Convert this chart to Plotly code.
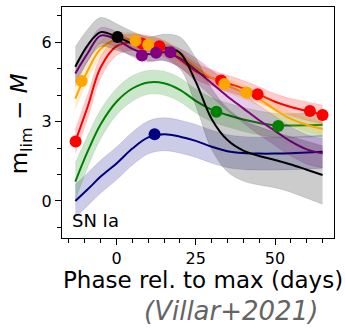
import plotly.graph_objects as go

phase = [-13, -9, -5, 0, 5, 10, 15, 20, 25, 30, 35, 40, 45, 50, 55, 60, 65]

navy_mean = [0.0, 0.45, 0.92, 1.42, 1.98, 2.4, 2.52, 2.43, 2.27, 2.05, 1.88, 1.81, 1.79, 1.79, 1.8, 1.83, 1.86]
navy_err = [0.62, 0.62, 0.62, 0.62, 0.62, 0.62, 0.62, 0.62, 0.62, 0.62, 0.62, 0.62, 0.62, 0.62, 0.62, 0.62, 0.62]
green_mean = [0.73, 1.9, 2.9, 3.75, 4.25, 4.48, 4.45, 4.2, 3.78, 3.45, 3.25, 3.08, 2.95, 2.86, 2.85, 2.86, 2.88]
green_err = [0.7, 0.6, 0.55, 0.5, 0.48, 0.45, 0.45, 0.45, 0.45, 0.45, 0.45, 0.45, 0.45, 0.45, 0.45, 0.45, 0.45]
red_mean = [2.25, 3.6, 5.05, 5.85, 6.0, 5.95, 5.75, 5.35, 4.9, 4.65, 4.45, 4.25, 4.02, 3.75, 3.55, 3.4, 3.27]
red_err = [0.45, 0.45, 0.4, 0.35, 0.3, 0.3, 0.3, 0.3, 0.3, 0.3, 0.3, 0.3, 0.3, 0.3, 0.32, 0.35, 0.35]
orange_mean = [3.87, 4.95, 5.75, 6.1, 6.1, 5.95, 5.8, 5.5, 5.05, 4.65, 4.35, 4.12, 3.85, 3.45, 3.1, 2.88, 2.72]
orange_err = [0.4, 0.35, 0.3, 0.25, 0.25, 0.25, 0.25, 0.25, 0.25, 0.25, 0.25, 0.25, 0.25, 0.25, 0.25, 0.25, 0.25]
purple_mean = [4.82, 5.6, 6.25, 6.1, 5.75, 5.55, 5.62, 5.4, 4.95, 4.45, 3.95, 3.5, 3.05, 2.65, 2.25, 1.95, 1.8]
purple_err = [0.35, 0.3, 0.3, 0.3, 0.3, 0.3, 0.3, 0.35, 0.45, 0.5, 0.55, 0.55, 0.55, 0.55, 0.55, 0.55, 0.55]
black_mean = [5.07, 5.9, 6.38, 6.2, 5.95, 5.75, 5.8, 5.6, 4.5, 3.1, 2.3, 1.9, 1.7, 1.55, 1.38, 1.18, 0.98]
black_err = [0.75, 0.6, 0.55, 0.5, 0.45, 0.45, 0.5, 0.6, 0.9, 1.15, 1.2, 1.15, 1.1, 1.05, 1.05, 1.08, 1.1]

navy_obs_t = [12.0]
navy_obs_m = [2.52]
green_obs_t = [31.5, 51.0]
green_obs_m = [3.37, 2.83]
red_obs_t = [-12.9, 8.0, 13.5, 33.0, 44.5, 61.0, 65.0]
red_obs_m = [2.25, 5.95, 5.85, 4.55, 4.03, 3.4, 3.25]
orange_obs_t = [-11.0, 6.0, 10.0, 34.0, 41.0]
orange_obs_m = [4.53, 6.05, 5.9, 4.42, 4.1]
purple_obs_t = [8.0, 12.5, 17.0]
purple_obs_m = [5.5, 5.6, 5.62]
black_obs_t = [0.3]
black_obs_m = [6.2]

bands = [
    ("navy", (0, 0, 128), navy_mean, navy_err, navy_obs_t, navy_obs_m),
    ("green", (0, 128, 0), green_mean, green_err, green_obs_t, green_obs_m),
    ("red", (255, 0, 0), red_mean, red_err, red_obs_t, red_obs_m),
    ("orange", (255, 165, 0), orange_mean, orange_err, orange_obs_t, orange_obs_m),
    ("purple", (128, 0, 128), purple_mean, purple_err, purple_obs_t, purple_obs_m),
    ("black", (0, 0, 0), black_mean, black_err, black_obs_t, black_obs_m),
]

fig = go.Figure()
for name, rgb, mean, err, ot, om in bands:
    col = "rgb(%d,%d,%d)" % rgb
    fillc = "rgba(%d,%d,%d,0.2)" % rgb
    lo = [m - e for m, e in zip(mean, err)]
    hi = [m + e for m, e in zip(mean, err)]
    fig.add_trace(go.Scatter(x=phase, y=lo, mode="lines", line=dict(width=0.6, color=fillc, shape="spline"),
                             showlegend=False, hoverinfo="skip"))
    fig.add_trace(go.Scatter(x=phase, y=hi, mode="lines", line=dict(width=0.6, color=fillc, shape="spline"),
                             fill="tonexty", fillcolor=fillc, showlegend=False, hoverinfo="skip"))
    fig.add_trace(go.Scatter(x=phase, y=mean, mode="lines", line=dict(width=2, color=col, shape="spline"),
                             showlegend=False, name=name))
for name, rgb, mean, err, ot, om in bands:
    col = "rgb(%d,%d,%d)" % rgb
    fig.add_trace(go.Scatter(x=ot, y=om, mode="markers", marker=dict(size=12, color=col),
                             showlegend=False, name=name + " obs"))

fig.add_annotation(text="SN Ia", xref="paper", yref="paper", x=0.03, y=0.02,
                   xanchor="left", yanchor="bottom", showarrow=False,
                   font=dict(size=18, color="black"))
fig.add_annotation(text="Phase rel. to max (days)", xref="paper", yref="paper", x=0.52, y=-0.183,
                   xanchor="center", yanchor="middle", showarrow=False,
                   font=dict(size=23, color="black"))
fig.add_annotation(text="m<sub>lim</sub> − <i>M</i>", xref="paper", yref="paper", x=-0.152, y=0.495,
                   xanchor="center", yanchor="middle", showarrow=False, textangle=-90,
                   font=dict(size=23, color="black"))
fig.add_annotation(text="(Villar+2021)", xref="paper", yref="paper", x=0.621, y=-0.318,
                   xanchor="center", yanchor="middle", showarrow=False,
                   font=dict(size=26, color="rgb(100,100,100)", style="italic"))

axis_common = dict(showline=True, linecolor="black", linewidth=1.3, mirror=True,
                   ticks="outside", ticklen=6, tickwidth=1.2, tickcolor="black",
                   showgrid=False, zeroline=False, tickfont=dict(size=16, color="black"))
fig.update_xaxes(range=[-17.2, 68.6], tickvals=[0, 25, 50],
                 minor=dict(dtick=5, tick0=0, ticks="outside", ticklen=3.5, tickcolor="black", tickwidth=1),
                 **axis_common)
fig.update_yaxes(range=[-1.4, 7.33], tickvals=[0, 3, 6],
                 minor=dict(dtick=1, tick0=0, ticks="outside", ticklen=3.5, tickcolor="black", tickwidth=1),
                 **axis_common)
fig.update_layout(width=345, height=328, margin=dict(l=62, r=11, t=7, b=90),
                  plot_bgcolor="white", paper_bgcolor="white",
                  font=dict(family="DejaVu Sans", color="black"))
fig.write_html("out.html")
